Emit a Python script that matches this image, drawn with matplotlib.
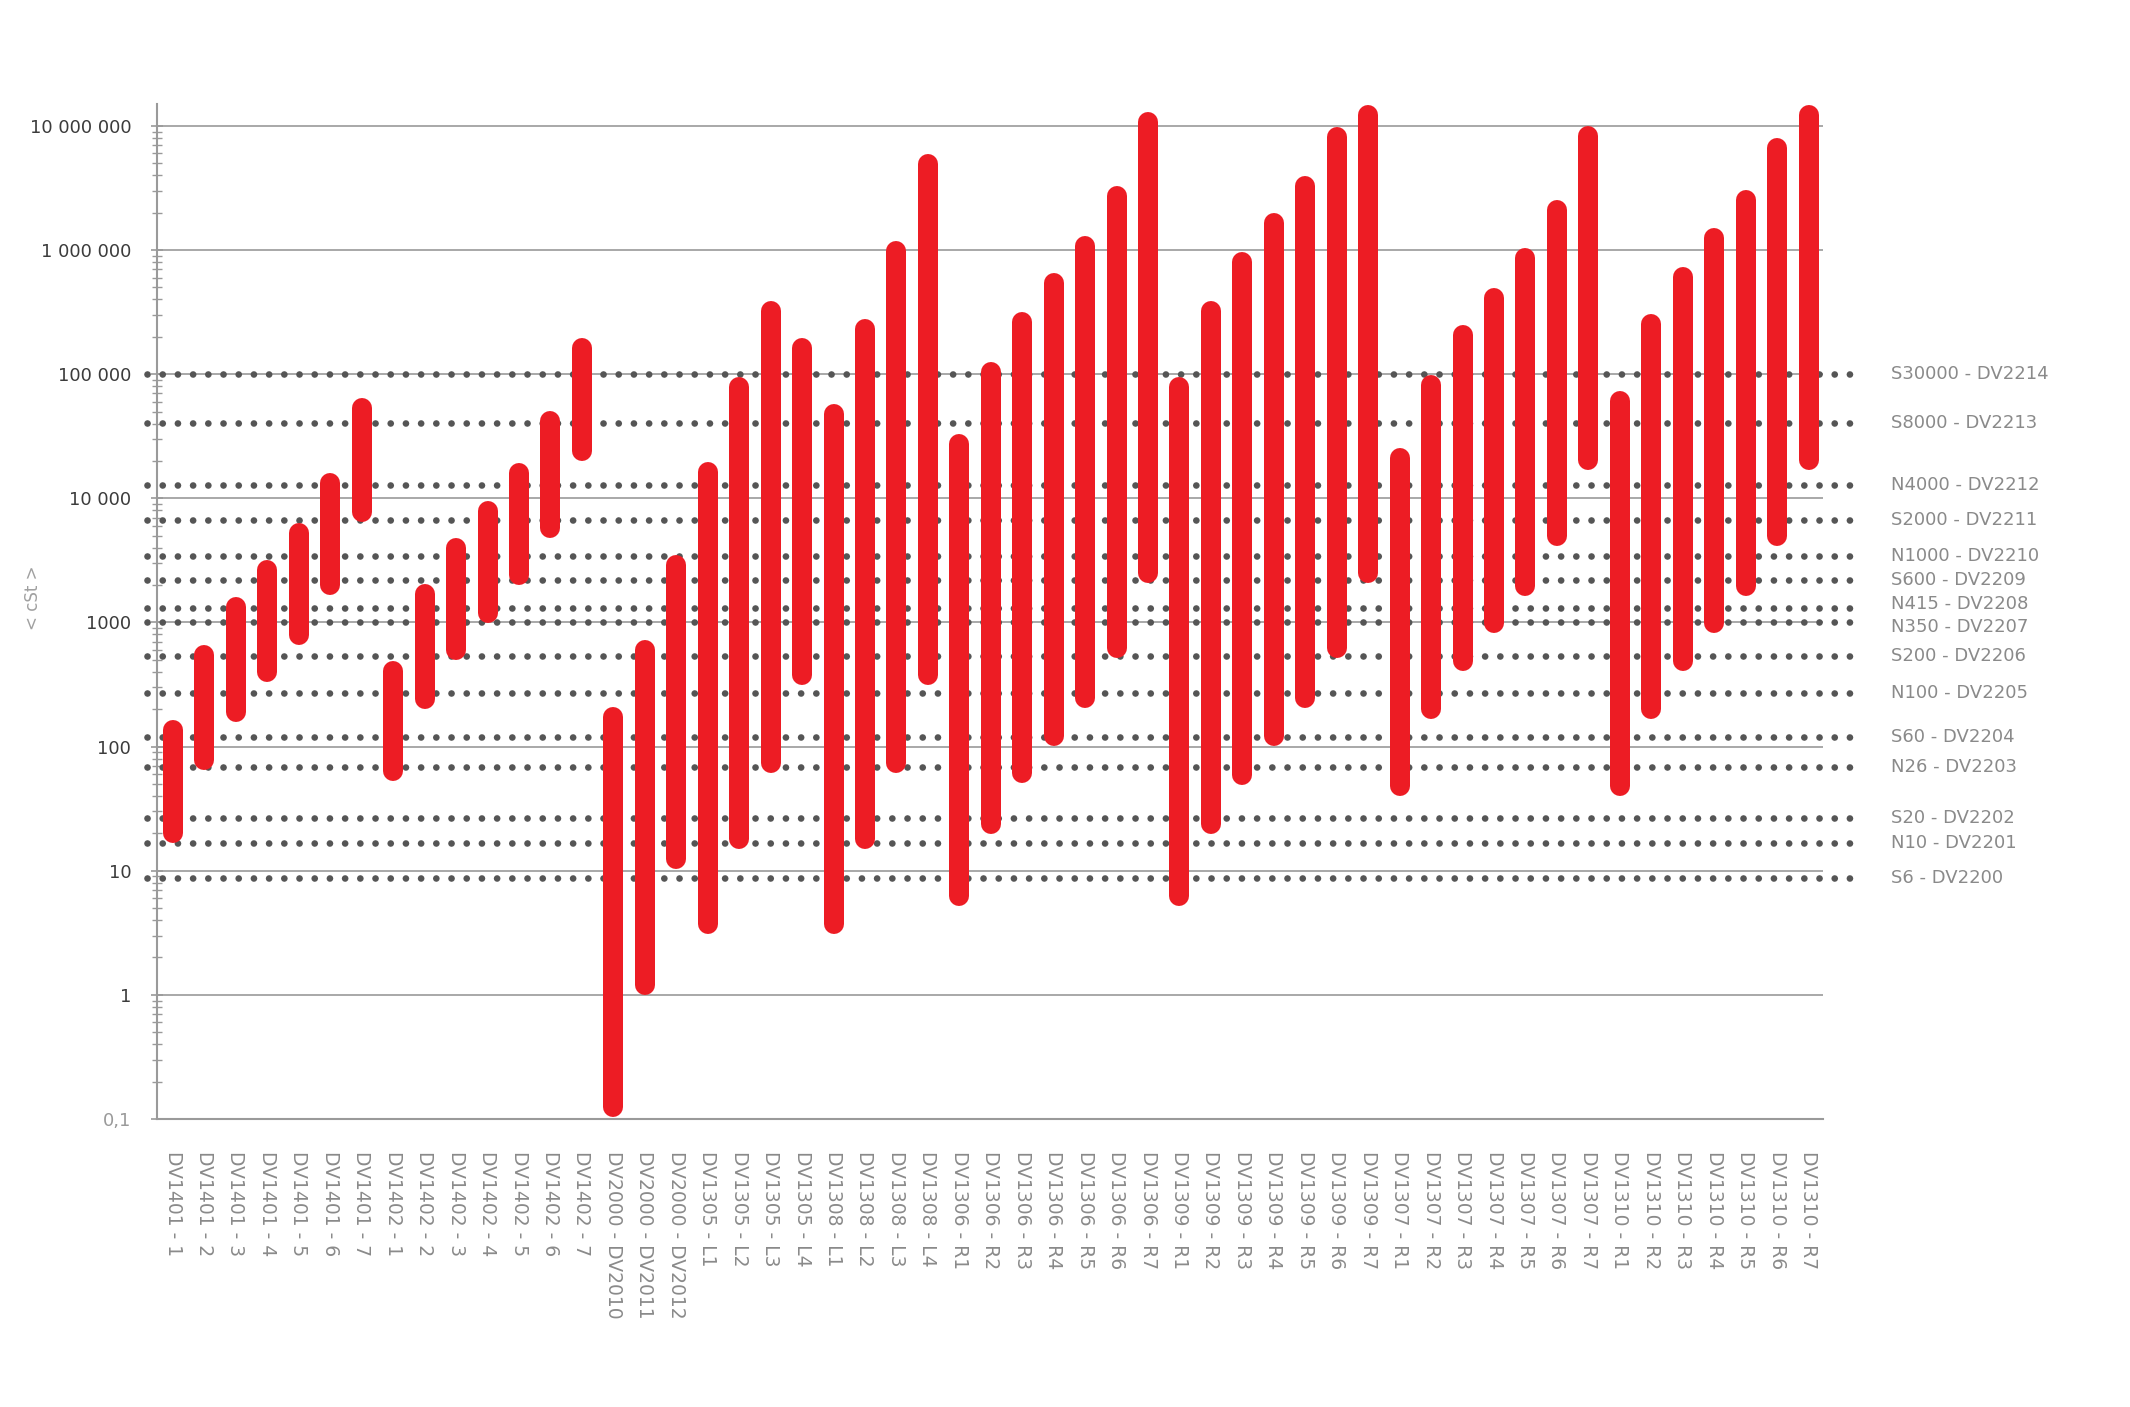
import matplotlib
matplotlib.use("Agg")
import matplotlib.pyplot as plt
import matplotlib.transforms as mtransforms
import numpy as np

# ---------------- data ----------------
categories = [
    "DV1401 - 1", "DV1401 - 2", "DV1401 - 3", "DV1401 - 4", "DV1401 - 5", "DV1401 - 6", "DV1401 - 7",
    "DV1402 - 1", "DV1402 - 2", "DV1402 - 3", "DV1402 - 4", "DV1402 - 5", "DV1402 - 6", "DV1402 - 7",
    "DV2000 - DV2010", "DV2000 - DV2011", "DV2000 - DV2012",
    "DV1305 - L1", "DV1305 - L2", "DV1305 - L3", "DV1305 - L4",
    "DV1308 - L1", "DV1308 - L2", "DV1308 - L3", "DV1308 - L4",
    "DV1306 - R1", "DV1306 - R2", "DV1306 - R3", "DV1306 - R4", "DV1306 - R5", "DV1306 - R6", "DV1306 - R7",
    "DV1309 - R1", "DV1309 - R2", "DV1309 - R3", "DV1309 - R4", "DV1309 - R5", "DV1309 - R6", "DV1309 - R7",
    "DV1307 - R1", "DV1307 - R2", "DV1307 - R3", "DV1307 - R4", "DV1307 - R5", "DV1307 - R6", "DV1307 - R7",
    "DV1310 - R1", "DV1310 - R2", "DV1310 - R3", "DV1310 - R4", "DV1310 - R5", "DV1310 - R6", "DV1310 - R7",
]

low_cst = [
    20, 78, 190, 400, 787, 2020, 7700,
    64, 242, 600, 1200, 2420, 5800, 23900,
    0.124, 1.2, 12.4,
    3.7, 17.9, 74, 376,
    3.7, 17.9, 74, 376,
    6.2, 24, 61, 122, 245, 618, 2480,
    6.2, 24, 59, 122, 245, 618, 2480,
    48, 200, 491, 984, 1970, 5000, 20500,
    48, 200, 491, 984, 1970, 5000, 20500,
]

high_cst = [
    137, 547, 1320, 2630, 5250, 13400, 53300,
    408, 1690, 4000, 7900, 16100, 41700, 162000,
    173, 600, 2910,
    16400, 78700, 321000, 163000,
    47800, 230000, 975000, 4970000,
    27500, 105000, 265000, 541000, 1070000, 2710000, 10700000,
    78700, 321000, 805000, 1640000, 3280000, 8200000, 12300000,
    21100, 81700, 207000, 407000, 867000, 2110000, 8300000,
    61300, 252000, 602000, 1260000, 2520000, 6600000, 12200000,
]

ref_labels = [
    "S30000 - DV2214", "S8000 - DV2213", "N4000 - DV2212", "S2000 - DV2211",
    "N1000 - DV2210", "S600 - DV2209", "N415 - DV2208", "N350 - DV2207",
    "S200 - DV2206", "N100 - DV2205", "S60 - DV2204", "N26 - DV2203",
    "S20 - DV2202", "N10 - DV2201", "S6 - DV2200",
]
ref_values = [100000, 40500, 12700, 6670, 3400, 2200, 1300, 1000,
              540, 272, 120, 69, 26.7, 16.7, 8.8]

ytick_values = [0.1, 1, 10, 100, 1000, 10000, 100000, 1000000, 10000000]
ytick_labels = ["0,1", "1", "10", "100", "1000", "10 000", "100 000", "1 000 000", "10 000 000"]
y_label = "< cSt >"

# ---------------- styling ----------------
RED = "#ED1C24"
GRID = "#9a9a9a"
DOT = "#555555"
TXT = "#8a8a8a"

W, H = 2130, 1407
fig = plt.figure(figsize=(W / 100, H / 100), dpi=100)
fig.patch.set_facecolor("white")

ax_left, ax_right = 157 / W, 1823 / W
ax_bottom, ax_top = 1 - 1119 / H, 1 - 104 / H
ax = fig.add_axes([ax_left, ax_bottom, ax_right - ax_left, ax_top - ax_bottom])

ax.set_yscale("log")
ax.set_ylim(0.1, 1.5e7)
n = len(categories)
x = np.arange(n)
ax.set_xlim(-0.51, n - 1 + 0.46)

# decade grid lines (solid)
for v in ytick_values[1:]:
    ax.axhline(v, color=GRID, lw=1.2, zorder=1)

# dotted reference lines with labels on the right
yax_tr = ax.get_yaxis_transform()
label_nudge = {"N415 - DV2208": 3, "N350 - DV2207": -3}  # points, to keep the two close labels apart
for v, lab in zip(ref_values, ref_labels):
    ax.plot([-0.006, 1.0246], [v, v], transform=yax_tr, color=DOT, lw=4.8,
            linestyle=(0, (0.01, 2.27)), dash_capstyle="round", clip_on=False, zorder=2)
    tr = mtransforms.offset_copy(yax_tr, fig=fig, x=0, y=label_nudge.get(lab, 0), units="points")
    ax.text(1.041, v, lab, transform=tr, ha="left", va="center",
            fontsize=13, color=TXT, clip_on=False)

# range bars
ax.vlines(x, low_cst, high_cst, colors=RED, linewidth=14.4, capstyle="round",
          zorder=5, clip_on=False)

# spines
for s in ["top", "right"]:
    ax.spines[s].set_visible(False)
ax.spines["left"].set_color(GRID)
ax.spines["left"].set_linewidth(1.5)
ax.spines["bottom"].set_color(GRID)
ax.spines["bottom"].set_linewidth(1.5)

# y ticks
ax.set_yticks(ytick_values)
ax.set_yticklabels(ytick_labels)
ax.yaxis.set_minor_locator(matplotlib.ticker.LogLocator(base=10, subs=np.arange(2, 10), numticks=20))
ax.yaxis.set_minor_formatter(matplotlib.ticker.NullFormatter())
ax.tick_params(axis="y", which="major", direction="inout", length=9, width=1.2,
               color=GRID, labelsize=13, labelcolor="#3c3c3c", pad=14)
ax.tick_params(axis="y", which="minor", direction="inout", length=7, width=1.0, color=GRID)
for lab in ax.get_yticklabels():
    if lab.get_text() == "0,1":
        lab.set_color("#9a9a9a")

# x ticks
ax.set_xticks(x)
ax.set_xticklabels(categories, rotation=-90, va="top", ha="center", fontsize=13.5, color=TXT)
ax.tick_params(axis="x", length=0, pad=23)

fig.text(33 / W, 1 - 598 / H, y_label, rotation=90, ha="center", va="center",
         fontsize=12, color="#a0a0a0")

fig.savefig("out.png", dpi=100, facecolor="white")
